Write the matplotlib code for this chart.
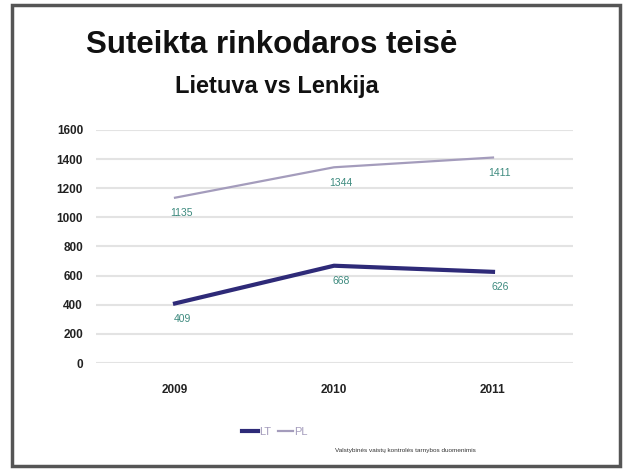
import matplotlib.pyplot as plt
from matplotlib.patches import Rectangle

plt.rcParams['font.family'] = ['Liberation Sans', 'DejaVu Sans']

years = ["2009", "2010", "2011"]
lt_values = [409, 668, 626]
pl_values = [1135, 1344, 1411]
y_ticks = [0, 200, 400, 600, 800, 1000, 1200, 1400, 1600]

fig = plt.figure(figsize=(6.24, 4.69), dpi=100)
ax = fig.add_axes([95.5 / 624, 1 - 363 / 469, 477 / 624, 233 / 469])

x = range(len(years))
ax.plot(x, lt_values, color="#2e2a78", linewidth=3, label="LT")
ax.plot(x, pl_values, color="#a49cbc", linewidth=1.6, label="PL")

for i, v in enumerate(lt_values):
    ax.annotate(str(v), (i, v), xytext=(5, -11), textcoords="offset points",
                ha="center", va="center", fontsize=7.5, color="#3d8a7e")
for i, v in enumerate(pl_values):
    ax.annotate(str(v), (i, v), xytext=(5, -11), textcoords="offset points",
                ha="center", va="center", fontsize=7.5, color="#3d8a7e")

ax.set_xlim(-0.5, 2.5)
ax.set_ylim(0, 1600)
ax.set_xticks(list(x))
ax.set_xticklabels(years, fontsize=8.5, fontweight="bold", color="#222222")
ax.set_yticks(y_ticks)
ax.set_yticklabels([str(t) for t in y_ticks], fontsize=8.5, fontweight="bold", color="#222222")
ax.tick_params(length=0, pad=9)
ax.tick_params(axis="x", pad=15)
ax.grid(axis="y", color="#e3e3e3", linewidth=1.5)
ax.set_axisbelow(True)
for s in ax.spines.values():
    s.set_visible(False)

fig.legend(loc="center", bbox_to_anchor=(275 / 624, 1 - 432 / 469), ncol=2,
           frameon=False, fontsize=8, handlelength=1.4, handletextpad=0.1,
           columnspacing=0.6, labelcolor="#a49cbc")

fig.text(272 / 624, 1 - 45 / 469, "Suteikta rinkodaros teisė", ha="center", va="center",
         fontsize=22.5, fontweight="bold", color="#111111")
fig.text(277 / 624, 1 - 86 / 469, "Lietuva vs Lenkija", ha="center", va="center",
         fontsize=17, fontweight="bold", color="#111111")
fig.text(405 / 624, 1 - 450 / 469, "Valstybinės vaistų kontrolės tarnybos duomenimis",
         ha="center", va="center", fontsize=4.6, color="#333333")

fig.patches.append(Rectangle((12 / 624, 3 / 469), 608 / 624, 461 / 469,
                             transform=fig.transFigure, fill=False,
                             edgecolor="#555555", linewidth=2.5))

fig.savefig("out.png", dpi=100)
